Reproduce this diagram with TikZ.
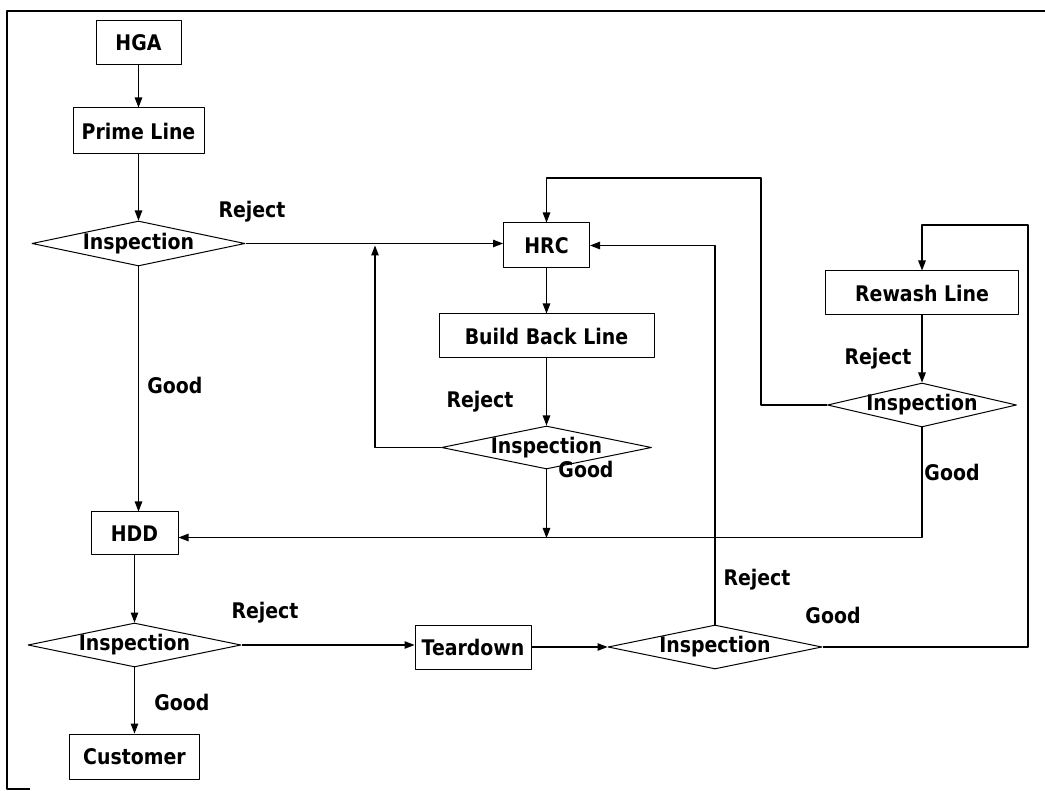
\documentclass[tikz,border=0pt]{standalone}
\usepackage{fontspec}
\newfontfamily\flowfont{DejaVu Sans}[FakeStretch=0.88]
\usetikzlibrary{shapes.geometric,arrows.meta}

\begin{document}
\begin{tikzpicture}[
  x=1pt, y=-1pt,
  line join=round,
  font=\flowfont\bfseries\fontsize{21.5}{24}\selectfont,
  box/.style={draw, line width=1pt, inner sep=0pt},
  check/.style={draw, diamond, shape aspect=4.7, line width=1pt, inner sep=-3pt},
  flow/.style={line width=1.3pt, -{Triangle[length=10pt,width=7.5pt]}},
  frame/.style={line width=1.6pt},
  tag/.style={inner sep=0pt},
]
\useasboundingbox (0,0) rectangle (1045,791);

% ── page frame, open on the right and at the bottom ───────────────────────
\draw[frame] (1045,11) -- (7,11) -- (7,789) -- (30,789);

% ── main line on the left ─────────────────────────────────────────────────
\node[box, minimum width=85pt,  minimum height=44pt] (hga)   at (138.5,43)  {HGA};
\node[box, minimum width=131pt, minimum height=46pt] (prime) at (138.5,131) {Prime Line};
\node[check, minimum width=213pt, minimum height=45pt] (insp1) at (138.5,243.5) {Inspection};

\node[box, minimum width=87pt,  minimum height=43pt] (hdd)  at (134.5,533.5) {HDD};
\node[check, minimum width=213pt, minimum height=44pt] (insp4) at (134.5,645) {Inspection};
\node[box, minimum width=130pt, minimum height=45pt] (cust) at (134.5,756.5) {Customer};

% ── rebuild branch ────────────────────────────────────────────────────────
\node[box, minimum width=86pt,  minimum height=45pt] (hrc)   at (546.5,245.5) {HRC};
\node[box, minimum width=215pt, minimum height=44pt] (build) at (546.5,336)   {Build Back Line};
\node[check, minimum width=210pt, minimum height=43pt] (insp2) at (546.5,447.5) {Inspection};

% ── rewash branch ─────────────────────────────────────────────────────────
\node[box, minimum width=193pt, minimum height=44pt] (rewash) at (922,293) {Rewash Line};
\node[check, minimum width=189pt, minimum height=44pt] (insp3) at (922,405) {Inspection};

% ── teardown ──────────────────────────────────────────────────────────────
\node[box, minimum width=116pt, minimum height=44pt] (tear)  at (473,647) {Teardown};
\node[check, minimum width=214pt, minimum height=44pt] (insp5) at (715,647) {Inspection};

% bends of the return lines
\coordinate (merge) at (375,245.5);
\coordinate (loopA) at (761,178);
\coordinate (loopB) at (1028,225);
\coordinate (drop)  at (546.5,538);

% ── connectors ────────────────────────────────────────────────────────────
\draw[flow] (hga) -- (prime);
\draw[flow] (prime) -- (insp1);
\draw[flow] (insp1.south) -- (insp1.south |- hdd.north);
\draw[flow] (insp1.east) -- (insp1.east -| hrc.west);
\draw[flow] (hrc) -- (build);
\draw[flow] (build) -- (insp2);
\draw[flow] (insp2.west) -| (merge);
\draw[flow] (insp2.south) -- (drop);
\draw[flow] (rewash) -- (insp3);
\draw[flow] (insp3.west) -| (loopA) -| (hrc.north);
\draw[flow] (insp3.south) |- ([yshift=-4pt]hdd.east);
\draw[flow] (hdd) -- (insp4);
\draw[flow] (insp4) -- (cust);
\draw[flow] (insp4.east) -- (insp4.east -| tear.west);
\draw[flow] (tear) -- (insp5);
\draw[flow] (insp5.north) |- (hrc.east);
\draw[flow] (insp5.east) -| (loopB) -| (rewash.north);

% ── labels ────────────────────────────────────────────────────────────────
\node[tag] (rej1) at (252,212) {Reject};
\node[tag] (good1) at (175,385) {Good};
\node[tag] (rej2) at (480,402) {Reject};
\node[tag] (good2) at (586,469) {Good};
\node[tag] (rej3) at (878,359) {Reject};
\node[tag] (good3) at (952,472) {Good};
\node[tag] (rej4) at (265,613) {Reject};
\node[tag] (good4) at (182,702) {Good};
\node[tag] (rej5) at (757,580) {Reject};
\node[tag] (good5) at (833,615) {Good};

\end{tikzpicture}
\end{document}
